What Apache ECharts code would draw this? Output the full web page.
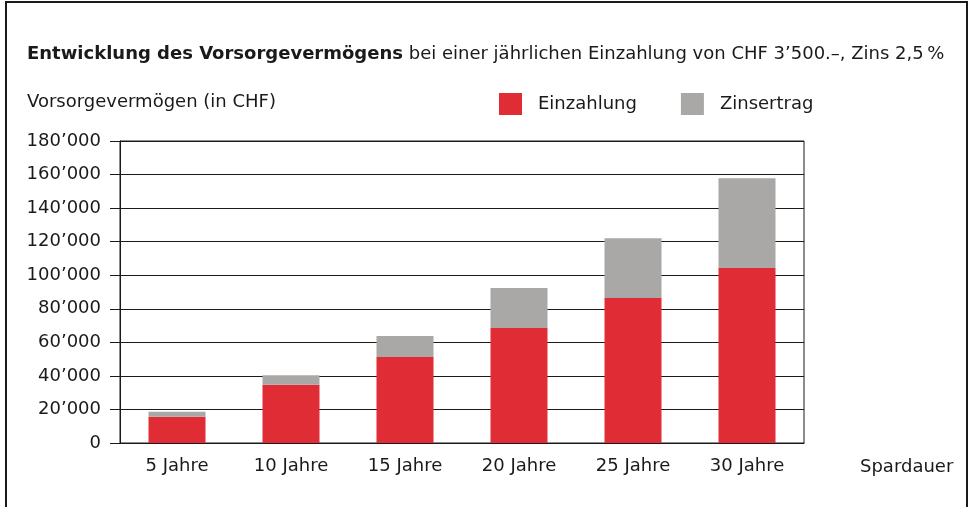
<!DOCTYPE html>
<head>
    <meta charset="utf-8">
    <title>Vorsorgevermögen</title>
</head>
<body style="margin:0">
    <div id="main" style="width:976px;height:507px"></div>
    <script src="https://cdn.jsdelivr.net/npm/echarts@6/dist/echarts.min.js"></script>
    <script type="text/javascript">
        // Werte
        var categories = ['5 Jahre', '10 Jahre', '15 Jahre', '20 Jahre', '25 Jahre', '30 Jahre'];
        var einzahlung = [15700, 34700, 51300, 68600, 86400, 104300];
        var zinsertrag = [2900, 5700, 12500, 23800, 35700, 53500];
        var yTicks = { min: 0, max: 180000, interval: 20000 };

        var font = 'DejaVu Sans';
        var fs = 18;
        var red = '#e02d35';
        var grey = '#a9a8a6';

        function fmt(v) {
            return String(v).replace(/\B(?=(\d{3})+(?!\d))/g, '\u2019');
        }

        var myChart = echarts.init(document.getElementById('main'));

        var option = {
            animation: false,
            backgroundColor: '#fff',
            textStyle: { fontFamily: font, color: '#1a1a1a' },
            title: [{
                text: '{b|Entwicklung des Vorsorgevermögens} {n|bei einer jährlichen Einzahlung von CHF 3\u2019500.\u2013, Zins 2,5\u2009%}',
                left: 22,
                top: 40,
                textStyle: {
                    fontWeight: 'normal',
                    rich: {
                        b: { fontFamily: font, fontSize: fs, fontWeight: 'bold', color: '#1a1a1a' },
                        n: { fontFamily: font, fontSize: fs, fontWeight: 'normal', color: '#1a1a1a' }
                    }
                }
            }, {
                text: 'Vorsorgevermögen (in CHF)',
                left: 22,
                top: 88,
                textStyle: { fontFamily: font, fontSize: fs, fontWeight: 'normal', color: '#1a1a1a' }
            }],
            legend: {
                left: 494,
                top: 88,
                itemWidth: 23,
                itemHeight: 22,
                itemGap: 44,
                icon: 'rect',
                textStyle: { fontFamily: font, fontSize: fs, color: '#1a1a1a', padding: [0, 0, 0, 11] },
                data: ['Einzahlung', 'Zinsertrag']
            },
            grid: {
                left: 120,
                right: 172,
                top: 141,
                bottom: 64,
                show: true,
                borderColor: '#1a1a1a',
                borderWidth: 1
            },
            xAxis: {
                type: 'category',
                data: categories,
                name: 'Spardauer',
                nameLocation: 'end',
                nameGap: 56,
                nameTextStyle: { fontFamily: font, fontSize: fs, color: '#1a1a1a', verticalAlign: 'top', padding: [15, 0, 0, 0] },
                axisLine: { lineStyle: { color: '#1a1a1a', width: 1 } },
                axisTick: { show: false },
                axisLabel: { fontFamily: font, fontSize: fs, color: '#1a1a1a', margin: 14 }
            },
            yAxis: {
                type: 'value',
                min: yTicks.min,
                max: yTicks.max,
                interval: yTicks.interval,
                axisLine: { show: true, lineStyle: { color: '#1a1a1a', width: 1 } },
                axisTick: { show: true, length: 10, lineStyle: { color: '#1a1a1a' } },
                axisLabel: { fontFamily: font, fontSize: fs, color: '#1a1a1a', margin: 19, formatter: fmt },
                splitLine: { lineStyle: { color: '#1a1a1a', width: 1 } }
            },
            series: [{
                name: 'Einzahlung',
                type: 'bar',
                stack: 'total',
                barWidth: 57,
                itemStyle: { color: red },
                data: einzahlung
            }, {
                name: 'Zinsertrag',
                type: 'bar',
                stack: 'total',
                barWidth: 57,
                itemStyle: { color: grey },
                data: zinsertrag
            }],
            graphic: [{
                type: 'rect',
                shape: { x: 6, y: 2, width: 961, height: 530 },
                style: { fill: 'none', stroke: '#1a1a1a', lineWidth: 2 },
                silent: true
            }]
        };

        myChart.setOption(option);
    </script>
</body>
